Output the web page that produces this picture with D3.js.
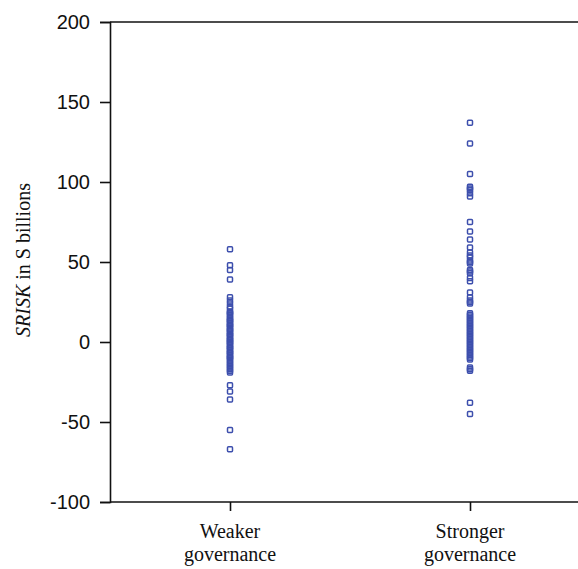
<!DOCTYPE html>
<html>
<head>
<meta charset="utf-8">
<script src="https://cdn.jsdelivr.net/npm/d3@7"></script>
<style>
  body { margin: 0; background: #fff; }
  svg { display: block; }
</style>
</head>
<body>
<div id="chart"></div>
<script>
"use strict";

// groups on the x axis
const groups = ["Weaker governance", "Stronger governance"];
const groupLines = [["Weaker", "governance"], ["Stronger", "governance"]];

// SRISK values ($ billions)
const weakerValues = [58, 48, 45, 39, 28, 26, 24, 22, 21, 19, 18.5, 18, 17, 16, 15, 14, 13.5, 13, 12, 11, 10.5, 10, 9, 8,
    7.5, 7, 6, 5, 4.5, 4, 3, 2, 1.5, 1, 0, -0.5, -1, -2, -3, -3.5, -4, -5, -6, -6.5, -7, -8, -9, -9.5, -10, -11,
    -12, -13, -14, -15, -16, -17, -18, -19, -27, -31, -36, -55, -67];
const strongerValues = [137, 124, 105, 97, 96, 95, 93, 91, 75, 69, 64, 59, 56, 54, 53, 51, 50, 49, 45, 44, 43, 40, 38,
    31, 28, 26, 25, 24, 18, 17, 16, 15, 14, 13, 12, 11, 10, 9, 8, 7, 6, 5, 4, 3, 2, 1, 0, -1, -2, -3, -4, -5, -6,
    -7, -8, -9, -10, -11, -16, -17, -18, -38, -45];

const yTicks = [-100, -50, 0, 50, 100, 150, 200];

const width = 578, height = 569;
const margin = { left: 110, top: 22, bottom: 67 };

const svg = d3.select("#chart").append("svg")
    .attr("width", width)
    .attr("height", height);

const y = d3.scaleLinear()
    .domain([-100, 200])
    .range([height - margin.bottom, margin.top]);

const x = d3.scalePoint()
    .domain(groups)
    .range([margin.left, 590])
    .padding(0.5);

// y axis
const yAxis = svg.append("g")
    .attr("transform", `translate(${margin.left},0)`)
    .call(d3.axisLeft(y).tickValues(yTicks).tickSize(10).tickPadding(10).tickFormat(d => String(d)));
yAxis.select(".domain").attr("stroke", "#111").attr("stroke-width", 1.6);
yAxis.selectAll(".tick line").attr("stroke", "#111").attr("stroke-width", 1.6);
yAxis.selectAll(".tick text")
    .attr("fill", "#111")
    .style("font-family", "Arial, 'Liberation Sans', sans-serif")
    .style("font-size", "20px");

// top frame line
svg.append("line")
    .attr("x1", margin.left).attr("x2", width)
    .attr("y1", y(200)).attr("y2", y(200))
    .attr("stroke", "#111").attr("stroke-width", 1.6);

// x axis
const xAxis = svg.append("g")
    .attr("transform", `translate(0,${y(-100)})`)
    .call(d3.axisBottom(x).tickSize(9).tickFormat(""));
xAxis.select(".domain").remove();
xAxis.selectAll(".tick line").attr("stroke", "#111").attr("stroke-width", 1.6);
svg.append("line")
    .attr("x1", margin.left).attr("x2", width)
    .attr("y1", y(-100)).attr("y2", y(-100))
    .attr("stroke", "#111").attr("stroke-width", 1.6);

// category labels (two lines each)
groups.forEach((g, i) => {
    const t = svg.append("text")
        .attr("x", x(g))
        .attr("y", y(-100) + 36)
        .attr("text-anchor", "middle")
        .attr("fill", "#111")
        .style("font-family", "'Times New Roman', 'Liberation Serif', serif")
        .style("font-size", "20px");
    groupLines[i].forEach((line, j) => {
        t.append("tspan")
            .attr("x", x(g))
            .attr("dy", j === 0 ? 0 : 23)
            .text(line);
    });
});

// y axis title
const yTitle = svg.append("text")
    .attr("transform", `translate(30,${(y(200) + y(-100)) / 2 - 2}) rotate(-90)`)
    .attr("text-anchor", "middle")
    .attr("fill", "#111")
    .style("font-family", "'Times New Roman', 'Liberation Serif', serif")
    .style("font-size", "20px");
yTitle.append("tspan").style("font-style", "italic").text("SRISK");
yTitle.append("tspan").text(" in S billions");

// points
const series = [
    { group: groups[0], values: weakerValues },
    { group: groups[1], values: strongerValues }
];
const pointColor = "#3d4fad";
series.forEach(s => {
    svg.append("g")
        .selectAll("rect")
        .data(s.values)
        .join("rect")
        .attr("x", x(s.group) - 2.5)
        .attr("y", d => y(d) - 2.5)
        .attr("width", 5)
        .attr("height", 5)
        .attr("rx", 1)
        .attr("fill", "none")
        .attr("stroke", pointColor)
        .attr("stroke-width", 1.5);
});
</script>
</body>
</html>
